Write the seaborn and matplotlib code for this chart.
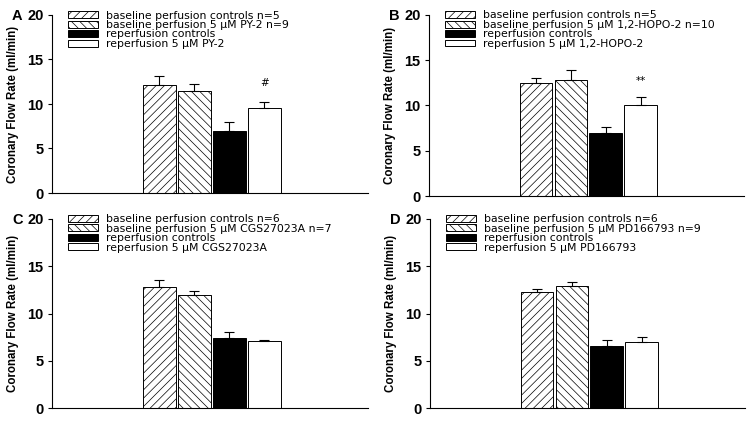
import numpy as np
import pandas as pd
import matplotlib
matplotlib.use('Agg')
import matplotlib.pyplot as plt
import seaborn as sns

# values (mean and upper SEM bar, ml/min)
groups = ['baseline controls', 'baseline drug', 'reperfusion controls', 'reperfusion drug']
letters = ['A', 'B', 'C', 'D']
drugs = ['PY-2', '1,2-HOPO-2', 'CGS27023A', 'PD166793']
n_ctrl = [5, 5, 6, 6]
n_drug = [9, 10, 7, 9]

means_A = [12.1, 11.5, 7.0, 9.5]
err_A = [1.0, 0.8, 1.0, 0.7]
means_B = [12.45, 12.8, 7.0, 10.1]
err_B = [0.55, 1.15, 0.65, 0.85]
means_C = [12.8, 11.95, 7.45, 7.05]
err_C = [0.7, 0.45, 0.6, 0.15]
means_D = [12.3, 12.9, 6.6, 6.95]
err_D = [0.25, 0.4, 0.55, 0.6]
marks = ['#', '**', '', '']
mark_y = [12.4, 12.7, 0, 0]

all_means = [means_A, means_B, means_C, means_D]
all_errs = [err_A, err_B, err_C, err_D]

sns.set_style('ticks')
plt.rcParams['font.family'] = ['Liberation Sans', 'DejaVu Sans']
plt.rcParams['hatch.linewidth'] = 0.5
for k in ['text.color', 'axes.labelcolor', 'xtick.color', 'ytick.color', 'axes.edgecolor']:
    plt.rcParams[k] = 'black'

fig = plt.figure(figsize=(7.53, 4.23), dpi=100)
W, H = 753, 423
# axes boxes in pixels: left, top, right, bottom
boxes = [(52, 15, 368, 193), (429, 15, 744, 196), (52, 219, 368, 408), (430, 219, 745, 408)]

fills = ['white', 'white', 'black', 'white']
hatches = ['////', '\\\\\\\\', '', '']

for i in range(4):
    l, t, r, b = boxes[i]
    ax = fig.add_axes([l / W, 1 - b / H, (r - l) / W, (b - t) / H])
    df = pd.DataFrame({'group': groups, 'flow': all_means[i]})
    sns.barplot(data=df, x='group', y='flow', order=groups, color='white',
                edgecolor='black', linewidth=0.7, width=0.94, errorbar=None, ax=ax)
    for p, fc, h in zip(ax.patches, fills, hatches):
        p.set_facecolor(fc)
        p.set_hatch(h)
        p.set_edgecolor('black')
    xs = np.arange(4)
    ax.errorbar(xs, all_means[i], yerr=[np.zeros(4), all_errs[i]], fmt='none',
                ecolor='black', elinewidth=0.8, capsize=3.5, capthick=0.8)
    if marks[i]:
        ax.text(3, mark_y[i], marks[i], ha='center', va='center', fontsize=7.5,
                family='DejaVu Sans')

    ax.set_xlim(-3.07, 5.96)
    ax.set_ylim(0, 20)
    ax.set_yticks([0, 5, 10, 15, 20])
    ax.set_xticks([])
    ax.set_xlabel('')
    ax.set_ylabel('Coronary Flow Rate (ml/min)', fontsize=8.3, fontweight='bold', labelpad=6)
    ax.tick_params(axis='y', labelsize=10.5, length=3, width=0.8, pad=3)
    for lbl in ax.get_yticklabels():
        lbl.set_fontweight('bold')
    sns.despine(ax=ax)
    for s in ['left', 'bottom']:
        ax.spines[s].set_linewidth(0.8)

    labels = [f'baseline perfusion controls n={n_ctrl[i]}',
              f'baseline perfusion 5 \u00b5M {drugs[i]} n={n_drug[i]}',
              'reperfusion controls',
              f'reperfusion 5 \u00b5M {drugs[i]}']
    ax.legend(ax.patches[:4], labels, loc='upper left', bbox_to_anchor=(0.05, 1.025),
              frameon=False, prop={'family': 'DejaVu Sans', 'size': 7.8},
              handlelength=2.8, handleheight=0.6,
              labelspacing=-0.05, handletextpad=0.75, borderpad=0, borderaxespad=0)

    fig.text((l - 40) / W, 1 - (t + 1) / H, letters[i], fontsize=10.5,
             fontweight='bold', ha='left', va='center')

fig.savefig('out.png', dpi=100)
